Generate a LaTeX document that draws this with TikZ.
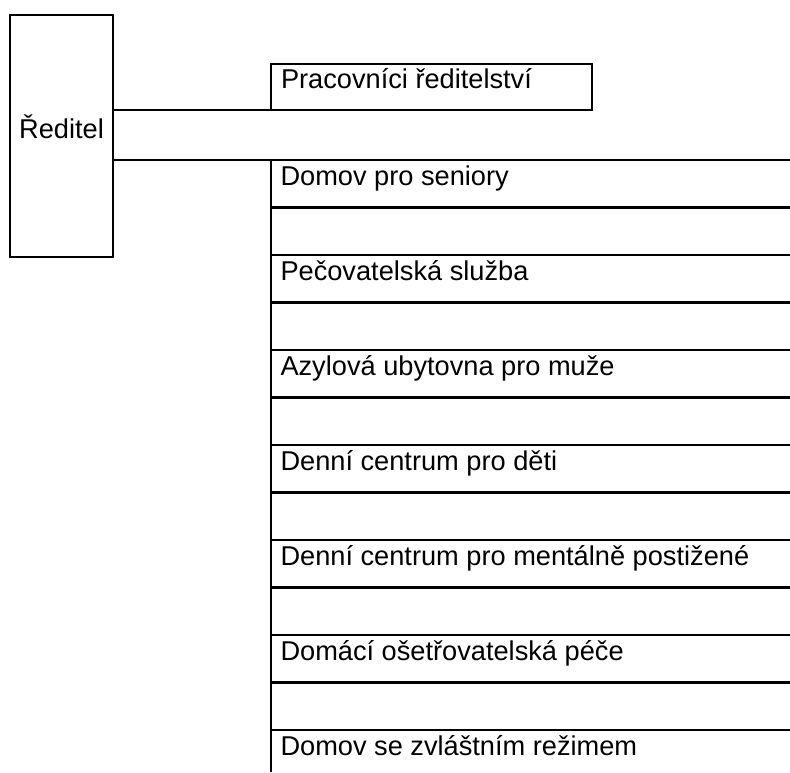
\documentclass[tikz,border=0pt]{standalone}
\usepackage{fontspec}
\setmainfont{Liberation Sans}
\tikzset{
  box/.style={draw, inner sep=0pt, outer sep=0pt},
  lbl/.style={inner sep=0pt, outer sep=0pt, font=\fontsize{27.2}{31}\selectfont},
}
\begin{document}
\begin{tikzpicture}[x=1pt,y=-1pt,line width=2.7pt]
\useasboundingbox (0,0) rectangle (790,772);
% Director box
\node[box, minimum width=103pt, minimum height=242pt] (dir) at (61.5,136) {};
\node[lbl, anchor=base] (dirl) at (61.5,138) {Ředitel};
% Staff box
\node[box, minimum width=321pt, minimum height=46pt] (prac) at (431.5,87) {};
\node[lbl, anchor=base west] (pracl) at (281,88) {Pracovníci ředitelství};
% connectors
\coordinate (t0) at (271,160);
\coordinate (tend) at (790,160);
\coordinate (vbot) at (271,772);
\draw (dir.east |- prac.south) -- (prac.south west);
\draw (dir.east |- t0) -- (t0) -- (tend);
\draw (t0) -- (vbot);
\foreach \k in {1,...,12}{
  \coordinate (a\k) at (271,{160+47.5*\k});
  \coordinate (b\k) at (790,{160+47.5*\k});
  \draw (a\k) -- (b\k);
}
\foreach \t [count=\i from 0] in {Domov pro seniory,Pečovatelská služba,Azylová ubytovna pro muže,Denní centrum pro děti,Denní centrum pro mentálně postižené,Domácí ošetřovatelská péče,Domov se zvláštním režimem}{
  \node[lbl, anchor=base west] (r\i) at (280.5,{160+95*\i+25.5}) {\t};
}
\end{tikzpicture}
\end{document}
